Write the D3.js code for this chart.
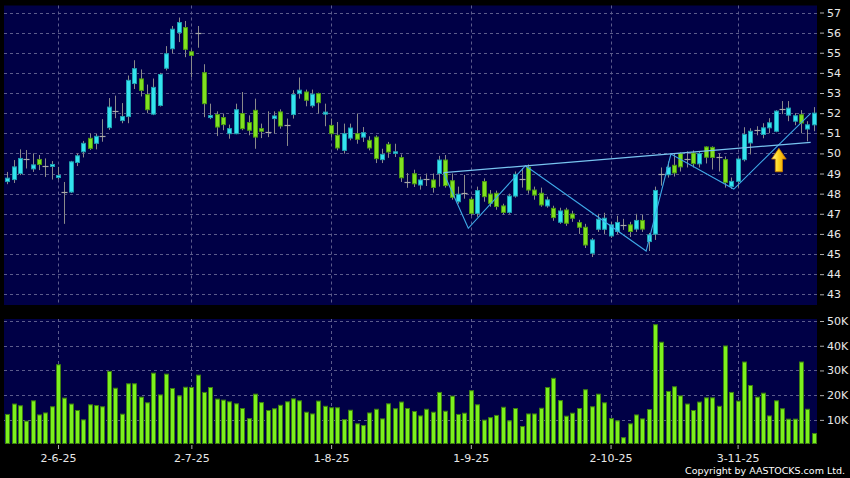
<!DOCTYPE html>
<html><head><meta charset="utf-8">
<script src="https://cdn.jsdelivr.net/npm/d3@7"></script>
<style>html,body{margin:0;padding:0;background:#000;}svg{display:block;}</style>
</head><body>
<svg id="chart" width="850" height="478"></svg>
<script>
// ---- data (bar index 0..127, daily) ----
const openP  = [48.6,48.7,49.0,49.72,49.23,49.7,49.37,49.35,48.8,48.1,48.08,49.55,50.08,50.75,50.5,50.87,51.28,52.13,51.63,51.83,
53.47,53.7,52.92,51.95,52.38,54.23,55.2,56.0,56.25,55.05,55.97,54.01,51.78,51.93,51.78,50.98,50.98,51.98,51.53,52.14,
51.23,51.06,51.73,52.06,51.4,51.93,52.97,53.05,52.37,52.97,51.95,51.39,50.9,50.15,50.76,50.98,50.81,50.65,50.81,49.69,
50.45,50.0,49.79,48.58,48.99,48.43,48.71,48.68,49.0,49.67,48.64,47.6,48.05,47.72,47.02,48.6,47.98,48.02,47.39,47.07,
47.88,48.73,49.31,48.18,48.02,47.39,47.27,46.58,47.19,46.99,46.56,46.33,45.04,46.23,46.23,45.9,46.12,46.45,46.45,46.24,
46.67,45.62,45.99,48.99,48.94,49.41,49.99,49.72,50.02,49.48,50.32,50.3,49.8,49.69,48.36,48.61,49.69,50.52,51.15,50.94,
51.27,51.1,52.2,51.9,51.6,51.92,51.21,51.42];
const highP  = [49.08,49.67,50.2,50.17,50.0,49.92,49.75,49.62,49.33,48.58,49.63,50.0,50.62,51.0,50.97,51.7,52.75,52.87,52.5,53.87,
54.63,54.17,53.42,53.72,54.0,55.33,56.33,56.75,56.58,55.17,56.33,54.43,52.47,52.09,51.98,51.43,52.47,53.05,51.89,52.72,
51.48,52.09,52.09,52.19,51.73,53.14,53.77,53.17,53.17,53.02,52.47,51.73,51.56,51.48,51.48,51.98,51.31,50.85,50.9,50.23,
50.57,50.48,49.95,49.02,49.19,48.85,49.0,49.0,49.88,49.92,49.0,48.35,48.93,47.85,48.35,48.76,48.18,48.15,47.5,48.0,
49.1,49.27,49.45,48.35,48.3,47.85,47.4,47.3,47.3,47.15,46.7,46.5,45.8,47.0,47.05,46.6,46.9,46.75,46.6,47.0,
46.95,46.05,48.35,49.3,49.6,49.97,50.05,50.1,50.15,50.1,50.35,50.35,50.0,49.85,48.8,49.8,51.3,51.25,51.35,51.5,
51.75,52.15,52.6,52.6,52.0,52.15,51.6,52.3];
const lowP   = [48.47,48.53,48.92,49.25,49.08,49.17,48.83,48.7,48.7,46.5,48.03,49.37,49.8,50.17,50.2,50.58,51.17,51.75,51.5,51.5,
53.2,52.83,52.0,51.9,52.33,54.12,54.97,55.53,54.78,53.78,55.25,51.8,51.7,50.86,51.15,50.73,50.95,51.15,50.9,50.23,
50.76,50.81,50.98,51.23,50.37,51.73,52.72,52.34,52.27,51.98,51.35,50.78,50.15,49.99,50.65,50.48,50.57,50.15,49.52,49.52,
49.78,49.82,48.58,48.29,48.33,48.2,48.38,48.05,48.35,48.3,47.7,47.5,47.75,46.9,46.85,47.6,47.35,47.2,46.95,47.0,
47.8,48.3,48.0,47.7,47.35,47.3,46.65,46.5,46.4,46.6,46.0,45.3,44.85,46.1,46.0,45.8,46.0,46.2,45.85,46.1,
46.1,45.15,45.7,48.4,48.8,48.85,49.1,49.3,49.3,49.3,49.5,49.2,49.1,48.3,48.23,48.3,49.6,49.95,50.9,50.75,
51.0,51.05,51.95,51.6,51.4,51.0,50.6,51.1];
const closeP = [48.77,49.33,49.75,49.72,49.43,49.45,49.37,49.45,48.9,48.1,49.58,49.88,50.5,50.25,50.85,50.87,52.3,52.13,51.83,53.63,
54.21,53.13,52.17,53.28,53.92,54.95,56.17,56.5,55.17,54.87,55.97,52.47,51.88,51.31,51.43,51.23,52.17,51.23,51.15,50.81,
51.1,51.06,51.86,51.36,51.4,52.92,53.14,52.64,52.94,52.52,52.05,50.98,50.27,50.98,51.26,50.7,51.03,50.27,49.74,49.95,
50.07,50.08,48.79,48.58,48.49,48.68,48.71,48.31,49.67,48.4,47.82,47.97,48.05,47.02,48.15,47.85,47.52,47.36,47.07,47.88,
48.96,48.73,48.18,47.93,47.44,47.69,46.81,47.14,46.53,46.78,46.33,45.45,45.7,46.73,46.78,46.45,46.57,46.45,46.12,46.67,
46.24,45.95,48.16,48.99,49.31,49.03,49.33,49.72,49.49,49.99,49.81,49.8,49.8,48.56,48.61,49.72,50.94,51.1,51.15,51.27,
51.52,52.1,52.2,52.25,51.87,51.51,51.42,52.0];
const volumeK = [12.2,16.4,15.7,9.5,17.7,12.0,12.8,15.3,32.3,18.8,16.4,13.8,10.0,16.1,15.8,15.3,29.6,22.8,12.3,24.6,
24.6,19.2,16.9,28.9,20.1,28.5,22.7,19.7,23.2,23.1,28.1,21.1,23.1,18.4,18.0,17.3,16.5,14.6,10.5,20.4,
17.0,13.8,14.5,15.9,17.3,18.5,17.7,13.1,12.4,17.6,15.5,14.9,14.9,10.1,13.9,8.4,7.7,12.8,14.3,10.4,
16.5,14.5,17.2,14.6,13.4,11.6,14.3,13.1,21.1,13.5,19.6,12.2,12.7,21.8,16.1,9.9,10.9,11.8,15.1,9.6,
14.6,7.3,12.4,12.4,14.7,23.1,26.8,17.8,11.5,12.7,14.6,22.2,15.3,20.4,16.9,10.5,9.6,2.8,8.4,12.0,
10.4,14.2,48.5,41.4,21.5,23.4,19.7,16.4,13.8,17.2,18.9,18.9,15.5,39.9,21.1,17.6,33.4,23.9,19.2,20.8,
11.6,17.7,14.5,10.3,10.3,33.4,14.3,4.5];
const dateTickIndex  = [8, 29, 51, 73, 95, 115];
const dateTickLabels = ["2-6-25","2-7-25","1-8-25","1-9-25","2-10-25","3-11-25"];
const priceTicks  = [43,44,45,46,47,48,49,50,51,52,53,54,55,56,57];
const volumeTicks = [10000,20000,30000,40000,50000];
const volumeTickLabels = ["10K","20K","30K","40K","50K"];
const trendLine = [[68.7,49.04],[126.5,50.55]];
const zigzagLine = [[68.7,49.04],[72.6,46.28],[81.6,49.39],[100.6,45.15],[104.5,49.97],[114.4,48.23],[126.5,51.99]];
const arrowMark = [121.5, 50.25];

// ---- build ----
const bars = openP.map((o,i)=>({i, o, h:highP[i], l:lowP[i], c:closeP[i], v:volumeK[i]*1000}));
const svg = d3.select("#chart");
const P = {l:4, r:817, t:5.5, b:305};
const V = {l:4, r:817, t:319, b:443.5};

const x  = d3.scaleLinear().domain([-0.5, 127.5]).range([P.l, P.r]);
const yP = d3.scaleLinear().domain([43, 57]).range([294.3, 12.5]);
const yV = d3.scaleLinear().domain([0, 50000]).range([444.6, 321]);

svg.append("rect").attr("width",850).attr("height",478).attr("fill","#000");
svg.append("rect").attr("x",P.l).attr("y",P.t).attr("width",P.r-P.l).attr("height",P.b-P.t).attr("fill","#000046");
svg.append("rect").attr("x",V.l).attr("y",V.t).attr("width",V.r-V.l).attr("height",V.b-V.t).attr("fill","#000046");

const gridColor = "#5c5c8c";
const grid = svg.append("g").attr("stroke",gridColor).attr("stroke-width",1).attr("stroke-dasharray","3,3");
priceTicks.forEach(p=>{
  const yy = Math.round(yP(p))+0.5;
  grid.append("line").attr("x1",P.l).attr("x2",P.r).attr("y1",yy).attr("y2",yy);
});
volumeTicks.forEach(v=>{
  const yy = Math.round(yV(v))+0.5;
  grid.append("line").attr("x1",V.l).attr("x2",V.r).attr("y1",yy).attr("y2",yy);
});
dateTickIndex.forEach(i=>{
  const xx = Math.round(x(i))+0.5;
  grid.append("line").attr("x1",xx).attr("x2",xx).attr("y1",P.t).attr("y2",P.b);
  grid.append("line").attr("x1",xx).attr("x2",xx).attr("y1",V.t).attr("y2",V.b);
});

const cx = i => Math.round(x(i)) + 0.5;
const upFill="#33e3f0", upStroke="#1f9fb0", dnFill="#80e020", dnStroke="#4c9a12", wickCol="#8a8a8a";

const cg = svg.append("g");
cg.selectAll("line.wick").data(bars).join("line").attr("class","wick")
  .attr("x1",d=>cx(d.i)).attr("x2",d=>cx(d.i))
  .attr("y1",d=>yP(d.h)).attr("y2",d=>yP(d.l))
  .attr("stroke",wickCol).attr("stroke-width",1);
cg.selectAll("rect.body").data(bars.filter(d=>d.o!==d.c)).join("rect").attr("class","body")
  .attr("x",d=>cx(d.i)-2).attr("width",4)
  .attr("y",d=>yP(Math.max(d.o,d.c)))
  .attr("height",d=>Math.max(1, Math.abs(yP(d.o)-yP(d.c))))
  .attr("fill",d=>d.c>d.o?upFill:dnFill)
  .attr("stroke",d=>d.c>d.o?upStroke:dnStroke).attr("stroke-width",1);
cg.selectAll("line.doji").data(bars.filter(d=>d.o===d.c)).join("line").attr("class","doji")
  .attr("x1",d=>cx(d.i)-3).attr("x2",d=>cx(d.i)+3)
  .attr("y1",d=>Math.round(yP(d.o))+0.5).attr("y2",d=>Math.round(yP(d.o))+0.5)
  .attr("stroke","#a8a8a8").attr("stroke-width",1.2);

// volume
svg.append("g").selectAll("rect").data(bars).join("rect")
  .attr("x",d=>cx(d.i)-2).attr("width",4)
  .attr("y",d=>yV(d.v)).attr("height",d=>V.b-yV(d.v))
  .attr("fill","#7cf01e").attr("stroke","#3d8010").attr("stroke-width",1);

// trend lines
const line = d3.line().x(d=>x(d[0])).y(d=>yP(d[1]));
svg.append("path").attr("d",line(zigzagLine)).attr("fill","none").attr("stroke","#3ea8e6").attr("stroke-width",1.1);
svg.append("path").attr("d",line(trendLine)).attr("fill","none").attr("stroke","#78c4f0").attr("stroke-width",1.3);

// arrow annotation
const defs = svg.append("defs");
const grad = defs.append("linearGradient").attr("id","ag").attr("x1","0").attr("x2","1").attr("y1","0").attr("y2","0");
grad.append("stop").attr("offset","0").attr("stop-color","#fff6a0");
grad.append("stop").attr("offset","0.45").attr("stop-color","#ffd820");
grad.append("stop").attr("offset","1").attr("stop-color","#e89000");
const ax = x(arrowMark[0]), ay = yP(arrowMark[1]);
svg.append("path")
  .attr("transform",`translate(${ax},${ay})`)
  .attr("d","M0,0 L7.3,10.7 L3.6,10.7 L3.6,23.4 L-3.6,23.4 L-3.6,10.7 L-7.3,10.7 Z")
  .attr("fill","url(#ag)").attr("stroke","#c47a00").attr("stroke-width",0.8);

// axes
const fontFam = "DejaVu Sans, Verdana, sans-serif";
const styleAxis = g => {
  g.select(".domain").remove();
  g.selectAll(".tick line").attr("stroke","#b0b0b0");
  g.selectAll(".tick text").attr("fill","#e8e8e8").style("font-family",fontFam).style("font-size","11px");
};
svg.append("g").attr("transform","translate(820,0)")
  .call(d3.axisRight(yP).tickValues(priceTicks).tickSize(4).tickPadding(3).tickFormat(d3.format("d")))
  .call(styleAxis);
svg.append("g").attr("transform","translate(820,0)")
  .call(d3.axisRight(yV).tickValues(volumeTicks).tickSize(4).tickPadding(3).tickFormat((d,k)=>volumeTickLabels[k]))
  .call(styleAxis);
svg.append("g").attr("transform",`translate(0,${V.b+1.5})`)
  .call(d3.axisBottom(x).tickValues(dateTickIndex).tickSize(4).tickPadding(5).tickFormat((d,k)=>dateTickLabels[k]))
  .call(styleAxis);

svg.append("text").attr("x",845).attr("y",474).attr("text-anchor","end")
  .attr("fill","#ffffff").style("font-family",fontFam).style("font-size","9.5px")
  .text("Copyright by AASTOCKS.com Ltd.");
</script>
</body></html>
